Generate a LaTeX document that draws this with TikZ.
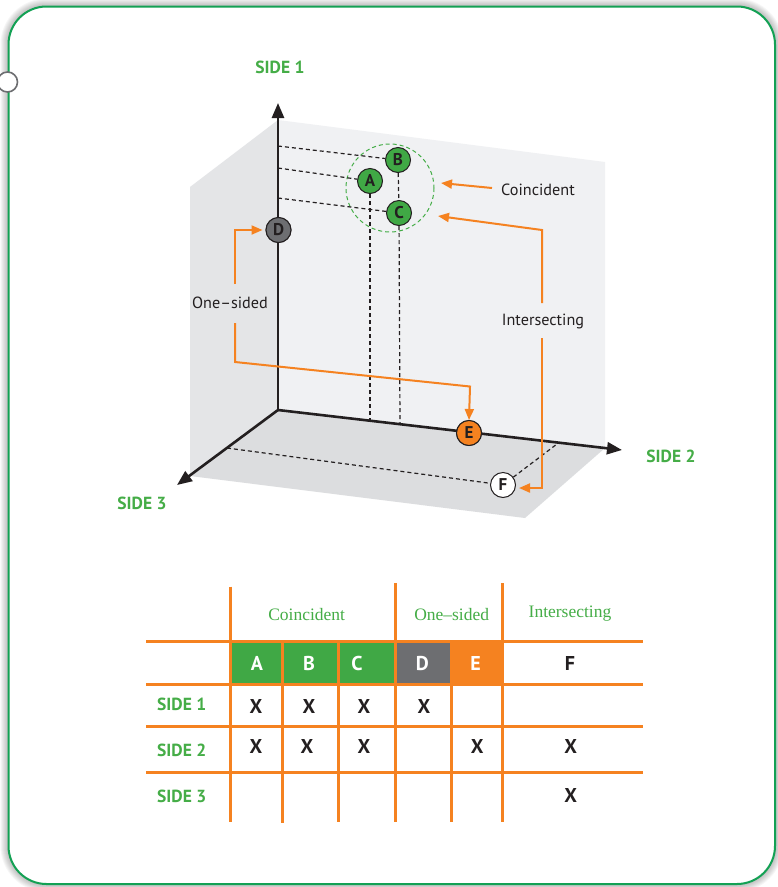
\documentclass[tikz,border=0pt]{standalone}
\usepackage{fontspec}
\setmainfont{PT Sans}
\newfontfamily\serifface{Liberation Serif}
\usetikzlibrary{arrows.meta,calc}
\definecolor{tgreen}{HTML}{45AD47}
\definecolor{cgreen}{HTML}{40A845}
\definecolor{fgreen}{HTML}{13A154}
\definecolor{orng}{HTML}{F58220}
\definecolor{dgray}{HTML}{6D6E71}
\definecolor{ink}{HTML}{231F20}
\definecolor{wallb}{HTML}{F0F1F3}
\definecolor{walll}{HTML}{E4E5E7}
\definecolor{floorc}{HTML}{DCDDDF}
\begin{document}
\begin{tikzpicture}[x=1pt,y=-1pt,
  axisline/.style={line width=2.6pt, draw=ink, -{Triangle[length=15pt,width=12pt]}},
  guide/.style={draw=ink, line width=1.2pt, dash pattern=on 4pt off 3pt},
  oarrow/.style={draw=orng, line width=2pt, -{Triangle[length=11pt,width=9pt]}},
  ptnode/.style={circle, draw=ink, line width=1pt, minimum size=25pt, inner sep=0pt, font=\bfseries\fontsize{17}{17}\selectfont, text=ink},
  sidelbl/.style={text=tgreen, font=\bfseries\fontsize{17.5}{17.5}\selectfont},
  lbl/.style={text=ink, font=\fontsize{16.2}{16.2}\selectfont},
  tgrid/.style={draw=orng, line width=3pt},
  hdr/.style={text=tgreen, font=\serifface\fontsize{17.5}{17.5}\selectfont},
  cellw/.style={text=white, font=\bfseries\fontsize{20}{20}\selectfont},
  xmark/.style={text=ink, font=\bfseries\fontsize{20}{20}\selectfont},
  rowlbl/.style={text=tgreen, font=\bfseries\fontsize{17.5}{17.5}\selectfont}]
\useasboundingbox (0,0) rectangle (778,887);
% frame with soft shadow
\foreach \w in {2,4,...,16}
  \draw[black, opacity=0.035, line width=\w pt, rounded corners=38pt] (8.5,6.5) rectangle (775,884);
\fill[white, rounded corners=38pt] (8.5,6.5) rectangle (775,884);
\draw[fgreen, line width=2pt, rounded corners=38pt] (8.5,6.5) rectangle (775,884);
\node[circle, draw=dgray, fill=white, line width=1.6pt, minimum size=20pt, inner sep=0pt] (hole) at (7.5,82) {};
% walls and floor
\fill[wallb] (278,120) -- (605,162) -- (605,448) -- (278,410) -- cycle;
\fill[walll] (190,187) -- (278,120) -- (278,410) -- (190,476) -- cycle;
\fill[floorc] (278,410) -- (605,448) -- (525,518) -- (190,476) -- cycle;
% points
\coordinate (O) at (278,410);
\coordinate (S1) at (278,103);
\coordinate (S2) at (622,450);
\coordinate (S3) at (177,485);
\coordinate (hB) at (278,146);
\coordinate (hA) at (278,168);
\coordinate (hC) at (278,198);
\coordinate (vA) at (370,420.7);
\coordinate (vC) at (400,424.2);
\coordinate (f3) at (227,448);
\coordinate (f2) at (557,444);
\node[ptnode, fill=cgreen] (A) at (370,181) {A};
\node[ptnode, fill=cgreen] (B) at (398,160) {B};
\node[ptnode, fill=cgreen] (C) at (399,213) {C};
\node[ptnode, fill=dgray] (D) at (278.5,230) {D};
\node[ptnode, fill=orng] (E) at (469,433) {E};
\node[ptnode, fill=white] (F) at (503,485) {F};
\draw[tgreen, line width=1pt, dash pattern=on 4pt off 3pt] (390,188) circle[radius=44];
% dashed guides
\draw[guide] (hB) -- (B);
\draw[guide] (hA) -- (A);
\draw[guide] (hC) -- (C);
\draw[guide] (A) -- (vA);
\draw[guide] (B) -- (C);
\draw[guide] (C) -- (vC);
\draw[guide] (f3) -- (F);
\draw[guide] (F) -- (f2);
% axes
\draw[axisline] (O) -- (S1);
\draw[axisline] (O) -- (S2);
\draw[axisline] (O) -- (S3);
% redraw circles above axes
\node[ptnode, fill=dgray] at (D) {D};
\node[ptnode, fill=orng] at (E) {E};
% labels
\node[sidelbl] (l1) at (280,67) {SIDE 1};
\node[sidelbl] (l2) at (671,456) {SIDE 2};
\node[sidelbl] (l3) at (142,503) {SIDE 3};
\node[lbl] (coin) at (538,190) {Coincident};
\node[lbl] (inter) at (543,321) {Intersecting};
\node[lbl] (ones) at (230,303) {One–sided};
% orange arrows
\coordinate (coinT) at (492,188);
\coordinate (coinH) at (441,183);
\draw[oarrow] (coinT) -- (coinH);
\coordinate (i1) at (542,303);
\coordinate (i2) at (542,230);
\coordinate (iH) at (438,216);
\draw[oarrow] (i1) -- (i2) -- (iH);
\coordinate (i3) at (542,338);
\coordinate (i4) at (542,488);
\coordinate (iF) at (519,488);
\draw[oarrow] (i3) -- (i4) -- (iF);
\coordinate (o1) at (235,284);
\coordinate (o2) at (235,230);
\draw[oarrow, shorten >=3pt] (o1) -- (o2) -- (D);
\coordinate (o3) at (235,323);
\coordinate (o4) at (235,362);
\coordinate (o5) at (470,386.5);
\draw[oarrow] (o3) -- (o4) -- (o5) -- (E.north);
% table fills
\fill[cgreen] (230,641.7) rectangle (395,684.3);
\fill[dgray] (395,641.7) rectangle (451,684.3);
\fill[orng] (451,641.7) rectangle (503,684.3);
% table grid
\foreach \yy in {641.7,684.3,726,772.7}
  \draw[tgrid] (146,\yy) -- (642.7,\yy);
\draw[tgrid] (230,586.7) -- (230,821.7);
\draw[tgrid] (282.7,641.7) -- (282.7,823);
\draw[tgrid] (338.3,641.7) -- (338.3,821.7);
\draw[tgrid] (395,583.3) -- (395,821.7);
\draw[tgrid] (451,641.7) -- (451,821.7);
\draw[tgrid] (502.7,583.3) -- (502.7,821.7);
% table texts
\node[hdr] (h1) at (306.7,615) {Coincident};
\node[hdr] (h2) at (451.7,615) {One–sided};
\node[hdr] (h3) at (570,613.3) {Intersecting};
\node[cellw] (cA) at (257,663.3) {A};
\node[cellw] (cB) at (309,663.3) {B};
\node[cellw] (cC) at (357,663.3) {C};
\node[cellw] (cD) at (422.3,663.3) {D};
\node[cellw] (cE) at (475.7,663.3) {E};
\node[xmark] (cF) at (570,663.3) {F};
\node[rowlbl] (r1) at (181.7,704) {SIDE 1};
\node[rowlbl] (r2) at (181.7,750) {SIDE 2};
\node[rowlbl] (r3) at (181.7,796) {SIDE 3};
\node[xmark] (x11) at (256,706) {X};
\node[xmark] (x12) at (309,706) {X};
\node[xmark] (x13) at (364,706) {X};
\node[xmark] (x14) at (424,706) {X};
\node[xmark] (x21) at (256,746.7) {X};
\node[xmark] (x22) at (307,746.7) {X};
\node[xmark] (x23) at (364,746.7) {X};
\node[xmark] (x25) at (477.3,746.7) {X};
\node[xmark] (x26) at (570.7,746.7) {X};
\node[xmark] (x36) at (570.7,795) {X};
\end{tikzpicture}
\end{document}
